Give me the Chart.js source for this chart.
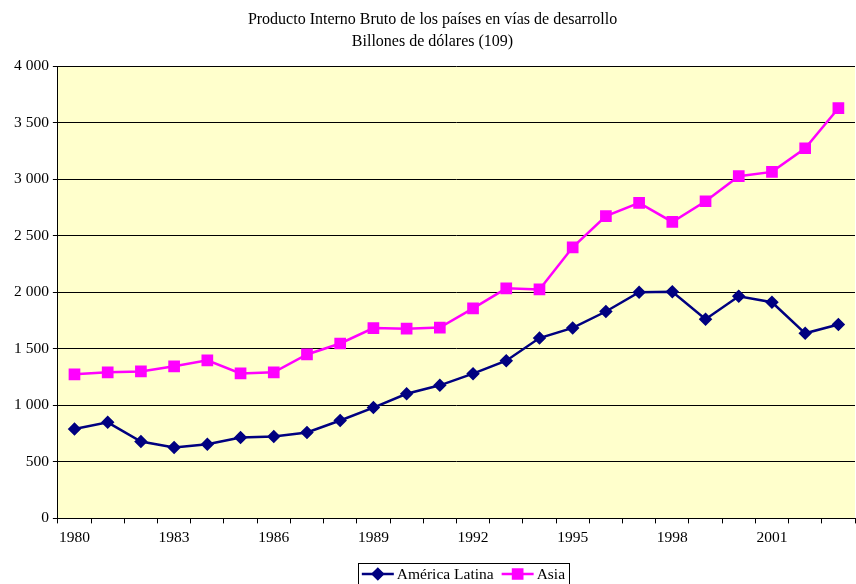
<!DOCTYPE html>
<html>
<head>
<meta charset="utf-8">
<script src="https://cdn.jsdelivr.net/npm/chart.js@4/dist/chart.umd.min.js"></script>
<style>
  html, body { margin: 0; padding: 0; background: #fff; }
  #wrap { position: relative; width: 856px; height: 584px; }
</style>
</head>
<body>
<div id="wrap"><canvas id="line-chart" width="856" height="584"></canvas></div>
<script>
const years = ['1980', '1981', '1982', '1983', '1984', '1985', '1986', '1987', '1988', '1989', '1990', '1991',
  '1992', '1993', '1994', '1995', '1996', '1997', '1998', '1999', '2000', '2001', '2002', '2003'];
const americaLatina = [790, 850, 680, 628, 655, 715, 724, 760, 866, 980, 1102, 1177,
  1280, 1395, 1595, 1685, 1830, 2000, 2005, 1762, 1965, 1912, 1637, 1715];
const asia = [1274, 1292, 1300, 1345, 1398, 1282, 1292, 1450, 1547, 1683, 1678, 1688,
  1858, 2035, 2025, 2398, 2673, 2790, 2622, 2805, 3027, 3065, 3274, 3628];
const yTicks = [0, 500, 1000, 1500, 2000, 2500, 3000, 3500, 4000];

const FONT = 'Liberation Serif, Times New Roman, serif';

const fmt = v => String(v).replace(/\B(?=(\d{3})+(?!\d))/g, ' ');

// yellow plot area
const plotBg = {
  id: 'plotBg',
  beforeDraw(chart) {
    const { ctx, chartArea: a } = chart;
    ctx.save();
    ctx.fillStyle = '#FFFFCC';
    ctx.fillRect(a.left, a.top, a.right - a.left, a.bottom - a.top);
    ctx.restore();
  },
};

// excel-like legend: line + marker, boxed
const boxLegend = {
  id: 'boxLegend',
  afterDraw(chart) {
    const ctx = chart.ctx;
    const sets = chart.data.datasets;
    ctx.save();
    ctx.font = '15.5px ' + FONT;
    const seg = 32, gap = 3, pad = 8;
    const widths = sets.map(ds => seg + gap + ctx.measureText(ds.label).width);
    const total = widths.reduce((s, w) => s + w, 0) + pad * (sets.length - 1) + 8;
    const cx = (chart.chartArea.left + chart.chartArea.right) / 2 + 7;
    let x = cx - total / 2;
    const top = 563, h = 24, yMid = top + 11;
    ctx.strokeStyle = '#000';
    ctx.lineWidth = 1;
    ctx.strokeRect(Math.round(x) + 0.5, top + 0.5, Math.round(total), h);
    x += 4;
    sets.forEach((ds, i) => {
      ctx.strokeStyle = ds.borderColor;
      ctx.lineWidth = 2.5;
      ctx.beginPath();
      ctx.moveTo(x, yMid);
      ctx.lineTo(x + seg, yMid);
      ctx.stroke();
      Chart.helpers.drawPoint(ctx, {
        pointStyle: ds.pointStyle, radius: ds.pointRadius, borderWidth: 1,
      }, x + seg / 2, yMid);
      ctx.fillStyle = ds.pointBackgroundColor;
      ctx.fill();
      ctx.fillStyle = '#000';
      ctx.textBaseline = 'middle';
      ctx.fillText(ds.label, x + seg + gap, yMid + 1);
      x += widths[i] + pad;
    });
    ctx.restore();
  },
};

const ctx = document.getElementById('line-chart').getContext('2d');

new Chart(ctx, {
  type: 'line',
  data: {
    labels: years,
    datasets: [
      {
        label: 'América Latina',
        data: americaLatina,
        borderColor: '#000080',
        backgroundColor: '#000080',
        pointBackgroundColor: '#000080',
        pointBorderColor: '#000080',
        pointStyle: 'rectRot',
        pointRadius: 5,
        borderWidth: 2.5,
        tension: 0,
      },
      {
        label: 'Asia',
        data: asia,
        borderColor: '#FF00FF',
        backgroundColor: '#FF00FF',
        pointBackgroundColor: '#FF00FF',
        pointBorderColor: '#FF00FF',
        pointStyle: 'rect',
        pointRadius: 6.5,
        borderWidth: 2.5,
        tension: 0,
      },
    ],
  },
  options: {
    responsive: false,
    animation: false,
    layout: { autoPadding: false, padding: { top: 2, right: 1, bottom: 32, left: 10 } },
    plugins: {
      legend: { display: false },
      tooltip: { enabled: false },
      title: {
        display: true,
        text: ['Producto Interno Bruto de los países en vías de desarrollo', 'Billones de dólares (109)'],
        color: '#000',
        font: { family: FONT, size: 16, weight: 'normal', lineHeight: 1.38 },
        padding: { top: 7, bottom: 13 },
      },
    },
    scales: {
      x: {
        offset: true,
        grid: { offset: true, drawOnChartArea: false, color: '#000', tickLength: 5 },
        border: { color: '#000' },
        afterFit: axis => { axis.paddingRight = 0; },
        ticks: {
          color: '#000',
          autoSkip: false,
          maxRotation: 0,
          padding: 5,
          font: { family: FONT, size: 15.5 },
          callback: (v, i) => (i % 3 === 0 ? years[i] : ''),
        },
      },
      y: {
        min: 0,
        max: 4000,
        afterBuildTicks: axis => { axis.ticks = yTicks.map(v => ({ value: v })); },
        grid: { color: '#000', tickLength: 5 },
        border: { color: '#000' },
        ticks: {
          color: '#000',
          padding: 4,
          font: { family: FONT, size: 15.5 },
          callback: v => fmt(v),
        },
      },
    },
  },
  plugins: [plotBg, boxLegend],
});
</script>
</body>
</html>
